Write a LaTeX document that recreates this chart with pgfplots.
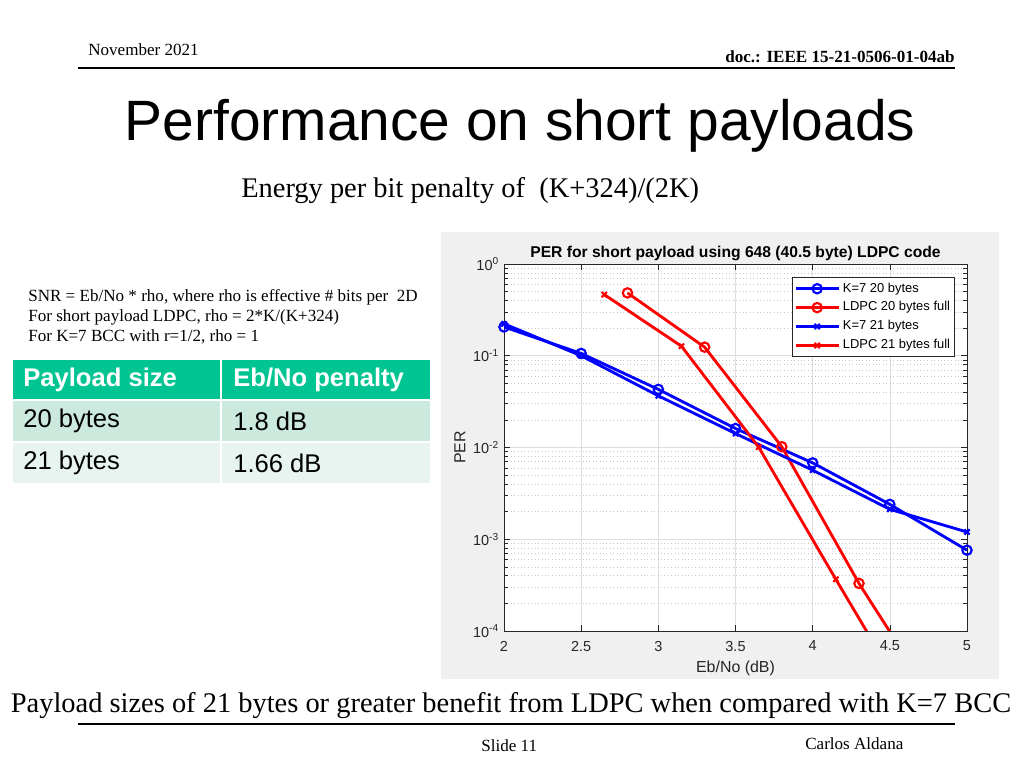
\documentclass[border=0pt]{standalone}
\usepackage{fontspec}
\setmainfont{Liberation Serif}
\newfontfamily\arial{Liberation Sans}
\usepackage{pgfplots}
\pgfplotsset{compat=1.18}
\definecolor{figbg}{HTML}{F0F0F0}
\definecolor{axcol}{HTML}{262626}
\definecolor{thead}{HTML}{00C491}
\definecolor{trow1}{HTML}{CCE9DE}
\definecolor{trow2}{HTML}{E7F4EF}
\begin{document}
\begin{tikzpicture}[x=0.703125pt,y=0.703125pt]
% slide background
\fill[white] (0,0) rectangle (1024,768);
% header
\node[anchor=base west,inner sep=0pt,font=\fontsize{12}{14}\selectfont] at (88,768-56) {November 2021};
\node[anchor=base east,inner sep=0pt,font=\bfseries\fontsize{12}{14}\selectfont] at (955,768-63) {doc.: IEEE 15-21-0506-01-04ab};
\draw[line width=1.2pt] (78,768-68) -- (955,768-68);
% title
\node[anchor=base,inner sep=0pt,font=\arial\fontsize{40}{46}\selectfont] at (520,768-141) {Performance on short payloads};
\node[anchor=base west,inner sep=0pt,font=\fontsize{20}{24}\selectfont] at (241,768-198) {Energy per bit penalty of\ \ (K+324)/(2K)};
% left notes
\node[anchor=base west,inner sep=0pt,font=\fontsize{12}{14}\selectfont] at (28,768-302) {SNR = Eb/No * rho, where rho is effective \# bits per\ \ 2D};
\node[anchor=base west,inner sep=0pt,font=\fontsize{12}{14}\selectfont] at (28,768-322) {For short payload LDPC, rho = 2*K/(K+324)};
\node[anchor=base west,inner sep=0pt,font=\fontsize{12}{14}\selectfont] at (28,768-342) {For K=7 BCC with r=1/2, rho = 1};
% table
\fill[thead] (13,768-360) rectangle (430,768-399);
\fill[trow1] (13,768-401) rectangle (430,768-441);
\fill[trow2] (13,768-443) rectangle (430,768-483);
\draw[white,line width=1.4pt] (221,768-358) -- (221,768-485);
\node[anchor=west,inner sep=0pt,text=white,font=\arial\bfseries\fontsize{18}{20}\selectfont] at (23,768-380) {\vphantom{Pb}Payload size};
\node[anchor=west,inner sep=0pt,text=white,font=\arial\bfseries\fontsize{18}{20}\selectfont] at (233,768-380) {\vphantom{Pb}Eb/No penalty};
\node[anchor=west,inner sep=0pt,font=\arial\fontsize{18}{20}\selectfont] at (23,768-421) {\vphantom{Pb}20 bytes};
\node[anchor=west,inner sep=0pt,font=\arial\fontsize{18}{20}\selectfont] at (233,768-421) {\vphantom{Pb}1.8 dB};
\node[anchor=west,inner sep=0pt,font=\arial\fontsize{18}{20}\selectfont] at (23,768-463) {\vphantom{Pb}21 bytes};
\node[anchor=west,inner sep=0pt,font=\arial\fontsize{18}{20}\selectfont] at (233,768-463) {\vphantom{Pb}1.66 dB};
% figure background
\fill[figbg] (441,768-679) rectangle (999,768-232);
\coordinate (axSW) at (504,768-631);
\begin{axis}[
  at={(axSW)}, anchor=south west,
  width=325.55pt, height=258.05pt, scale only axis,
  xmin=2, xmax=5, ymode=log, ymin=1e-4, ymax=1,
  axis background/.style={fill=white},
  axis line style={axcol, line width=0.5pt},
  tick style={axcol, line width=0.4pt},
  tick align=inside,
  xtick={2,2.5,3,3.5,4,4.5,5},
  xticklabels={2,2.5,3,3.5,4,4.5,5},
  ytick={1e-4,1e-3,1e-2,1e-1,1},
  yticklabels={10\textsuperscript{-4},10\textsuperscript{-3},10\textsuperscript{-2},10\textsuperscript{-1},10\textsuperscript{0}},
  tick label style={font=\arial\fontsize{10.2}{12}\selectfont, text=axcol},
  xticklabel style={yshift=-3.5pt},
  grid=both,
  major grid style={color=black!13, line width=0.4pt},
  minor grid style={color=black!22, dotted, line width=0.4pt},
  minor x tick num=0,
  xlabel={Eb/No (dB)}, ylabel={PER},
  label style={font=\arial\fontsize{11.2}{13}\selectfont, text=axcol},
  xlabel style={yshift=0pt},
  ylabel style={yshift=-1.5pt},
  title={PER for short payload using 648 (40.5 byte) LDPC code},
  title style={font=\arial\bfseries\fontsize{11}{13}\selectfont, text=black, yshift=-7pt},
  legend style={at={(0.974,0.964)}, anchor=north east, draw=axcol, fill=white,
    font=\arial\fontsize{9.1}{11}\selectfont, inner sep=1.2pt, row sep=0pt, line width=0.5pt,
    nodes={text height=7pt, text depth=2.3pt}},
  legend cell align=left,
  legend image code/.code={\draw[mark repeat=2,mark phase=2] plot coordinates {(0cm,0cm)(0.53cm,0cm)(1.06cm,0cm)};},
  every axis plot/.append style={line width=2pt},
]
\addplot[blue, mark=o, mark size=3.3pt, mark options={line width=1.5pt}] coordinates {
 (2,0.206) (2.5,0.106) (3,0.043) (3.5,0.0161) (4,0.0068) (4.5,0.0024) (5,0.00076)};
\addlegendentry{K=7 20 bytes}
\addplot[red, mark=o, mark size=3.3pt, mark options={line width=1.5pt}] coordinates {
 (2.8,0.484) (3.3,0.124) (3.8,0.0102) (4.3,0.00033) (4.8,1.6e-5)};
\addlegendentry{LDPC 20 bytes full}
\addplot[blue, mark=x, mark size=2.6pt, mark options={line width=1.5pt}] coordinates {
 (2,0.223) (2.5,0.100) (3,0.0366) (3.5,0.0142) (4,0.00566) (4.5,0.00212) (5,0.0012)};
\addlegendentry{K=7 21 bytes}
\addplot[red, mark=x, mark size=2.6pt, mark options={line width=1.5pt}] coordinates {
 (2.65,0.464) (3.15,0.127) (3.65,0.0101) (4.15,0.000366) (4.65,1.4e-5)};
\addlegendentry{LDPC 21 bytes full}
\end{axis}
% footer
\node[anchor=base,inner sep=0pt,font=\fontsize{20}{24}\selectfont] at (511,768-713) {Payload sizes of 21 bytes or greater benefit from LDPC when compared with K=7 BCC};
\draw[line width=1.2pt] (78,768-724) -- (955,768-724);
\node[anchor=base west,inner sep=0pt,font=\fontsize{12}{14}\selectfont] at (481,768-752) {Slide 11};
\node[anchor=base west,inner sep=0pt,font=\fontsize{12}{14}\selectfont] at (805,768-750) {Carlos Aldana};
\end{tikzpicture}
\end{document}
